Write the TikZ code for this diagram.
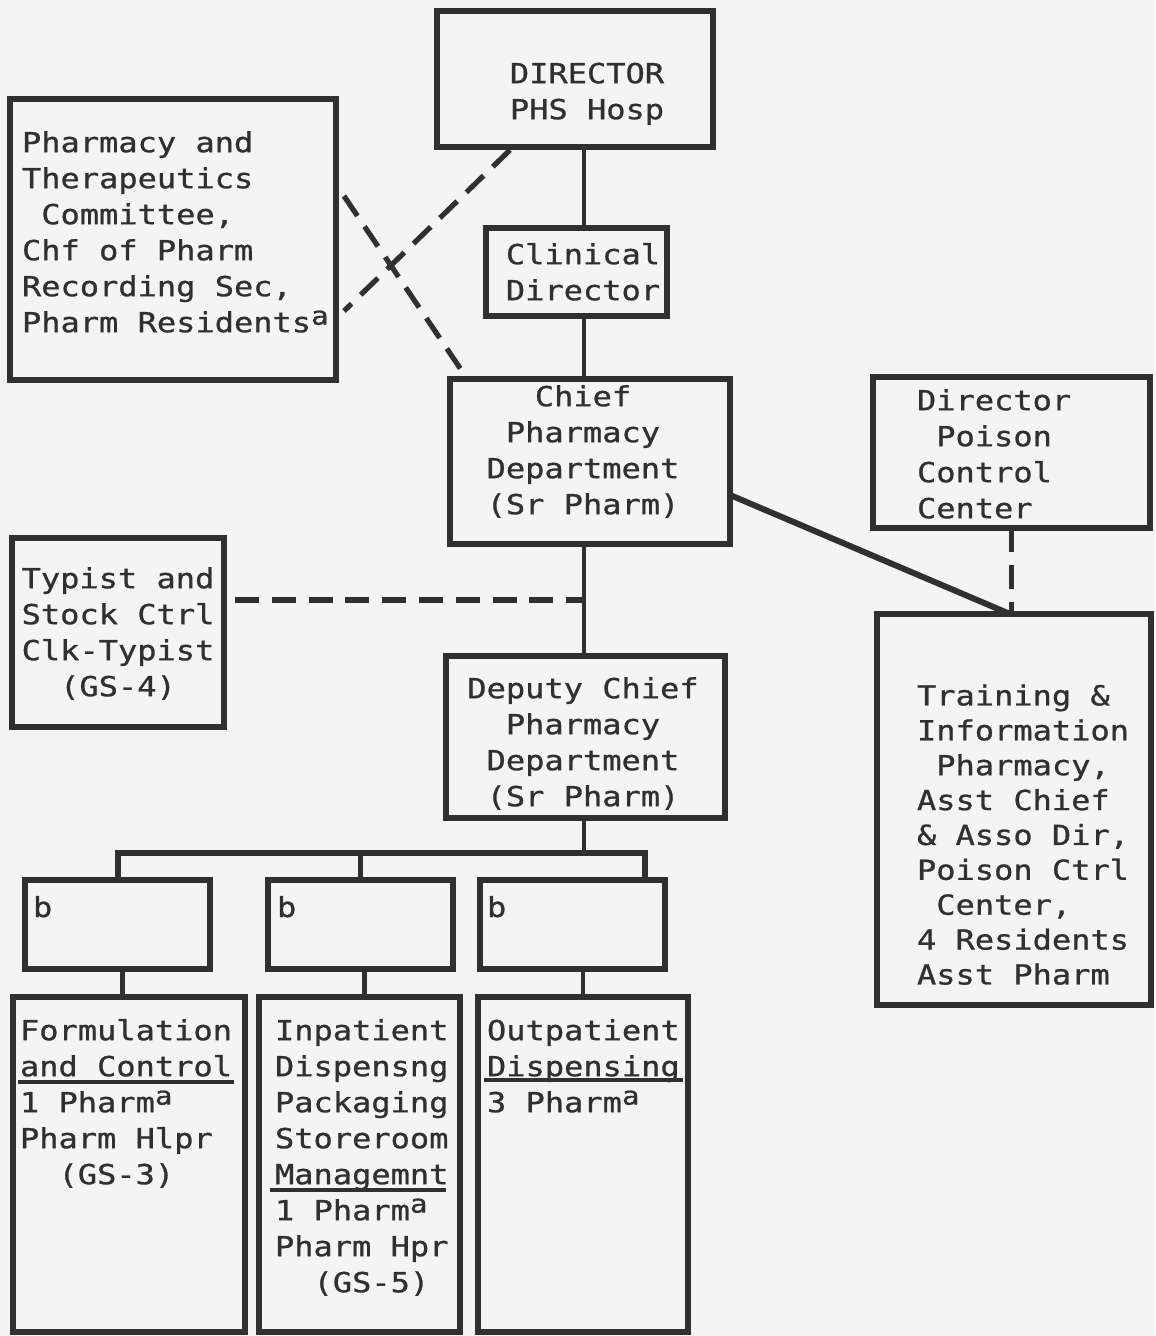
\documentclass[tikz,border=0pt]{standalone}
\usepackage{fontspec}
\newfontfamily\twfont[FakeStretch=1.16,FakeBold=0.9]{DejaVu Sans Mono}
\usetikzlibrary{fit,calc}
\definecolor{ink}{HTML}{303030}
\definecolor{paper}{HTML}{F4F4F4}
\newcommand\supa{\raisebox{1.9pt}{\fontsize{6.3}{6.5}\selectfont a}}
\begin{document}
\begin{tikzpicture}[x=0.25pt,y=-0.25pt,
  box/.style={draw=ink, line width=1.4pt, inner sep=0pt, outer sep=0pt, rectangle},
  conn/.style={draw=ink, line width=1.1pt},
  heavy/.style={draw=ink, line width=1.5pt},
  dashline/.style={draw=ink, line width=1.3pt, dash pattern=on 6pt off 3.2pt},
  txt/.style={text=ink, inner sep=0pt, outer sep=0pt, font=\twfont\fontsize{6.9}{9}\selectfont},
  ltxt/.style={txt, align=left, anchor=north west},
  ctxt/.style={txt, align=center, anchor=north},
  uline/.style={draw=ink, line width=0.9pt}]

\fill[paper] (0,0) rectangle (1155,1336);
\useasboundingbox (0,0) rectangle (1155,1336);

% boxes
\node[box, fit={(437,11) (713,147)}] (dir) {};
\node[box, fit={(10,99) (336,380)}] (ptc) {};
\node[box, fit={(486,228) (667,316)}] (clin) {};
\node[box, fit={(450,379) (730,544)}] (chief) {};
\node[box, fit={(873,377) (1150,528)}] (pois) {};
\node[box, fit={(12,538) (224,727)}] (typ) {};
\node[box, fit={(446,656) (725,818)}] (dep) {};
\node[box, fit={(877,614) (1151,1005)}] (train) {};
\node[box, fit={(25,880) (210,969)}] (b1) {};
\node[box, fit={(268,880) (453,969)}] (b2) {};
\node[box, fit={(480,880) (665,969)}] (b3) {};
\node[box, fit={(13,997) (245,1332)}] (low1) {};
\node[box, fit={(259,997) (460,1332)}] (low2) {};
\node[box, fit={(478,997) (688,1332)}] (low3) {};

% texts
\node[ctxt] (tdir) at (587,58) {\strut DIRECTOR\\PHS Hosp};
\node[ltxt] (tptc) at (22,127) {\strut Pharmacy and\\Therapeutics\\\phantom{x}Committee,\\Chf of Pharm\\Recording Sec,\\Pharm Residents\supa};
\node[ctxt] (tclin) at (583,239) {\strut Clinical\\Director};
\node[ctxt] (tchief) at (583,381) {\strut Chief\\Pharmacy\\Department\\(Sr Pharm)};
\node[ltxt] (tpois) at (917,385) {\strut Director\\\phantom{x}Poison\\Control\\Center};
\node[ctxt] (ttyp) at (118,563) {\strut Typist and\\Stock Ctrl\\Clk-Typist\\(GS-4)};
\node[ctxt] (tdep) at (583,673) {\strut Deputy Chief\\Pharmacy\\Department\\(Sr Pharm)};
\node[ltxt, font=\twfont\fontsize{6.9}{8.72}\selectfont] (ttrain) at (917,681) {\strut Training \&\\Information\\\phantom{x}Pharmacy,\\Asst Chief\\\& Asso Dir,\\Poison Ctrl\\\phantom{x}Center,\\4 Residents\\Asst Pharm};
\node[txt, anchor=base west] (lb1) at (33,917) {b};
\node[txt, anchor=base west] (lb2) at (277,917) {b};
\node[txt, anchor=base west] (lb3) at (487,917) {b};
\node[ltxt] (tl1) at (20,1015) {\strut Formulation\\and Control\\1 Pharm\supa\\Pharm Hlpr\\\phantom{xx}(GS-3)};
\node[ltxt] (tl2) at (275,1015) {\strut Inpatient\\Dispensng\\Packaging\\Storeroom\\Managemnt\\1 Pharm\supa\\Pharm Hpr\\\phantom{xx}(GS-5)};
\node[ltxt] (tl3) at (487,1015) {\strut Outpatient\\Dispensing\\3 Pharm\supa};

% underlines
\draw[uline] (18,1082) -- (234,1082);
\draw[uline] (270,1190) -- (446,1190);
\draw[uline] (484,1080) -- (683,1080);

% named junctions
\coordinate (spine) at (584,0);
\coordinate (tj) at (584,600);
\coordinate (brL) at (118,853);
\coordinate (brR) at (645,853);

% spine
\draw[conn] (dir.south -| spine) -- (clin.north -| spine);
\draw[conn] (clin.south -| spine) -- (chief.north -| spine);
\draw[conn] (chief.south -| spine) -- (dep.north -| spine);
\draw[conn] (dep.south -| spine) -- (spine |- brL);

% bracket
\draw[heavy] (b1.north) -- (b1.north |- brL) -- (brR) -- (brR |- b3.north);
\draw[conn] (b2.north) -- (b2.north |- brL);

% b -> lower
\draw[conn] ($(b1.south)+(5,0)$) -- ($(b1.south |- low1.north)+(5,0)$);
\draw[conn] ($(b2.south)+(4,0)$) -- ($(b2.south |- low2.north)+(4,0)$);
\draw[conn] (low3.north) -- (low3.north |- b3.south);

% dashed links
\draw[dashline] ($(typ.east |- tj)+(11,0)$) -- (tj);
\draw[dashline] ($(dir.south)+(-65,3)$) -- ($(ptc.east)+(8,71.5)$);
\draw[dashline] ($(ptc.east)+(8,-43.5)$) -- ($(chief.north west)+(16,-2)$);
\draw[dashline] (pois.south) -- (pois.south |- train.north);

% chief -> training
\draw[heavy] ($(chief.east)+(0,33.5)$) -- ($(train.north)+(-4,0)$);
\end{tikzpicture}
\end{document}
